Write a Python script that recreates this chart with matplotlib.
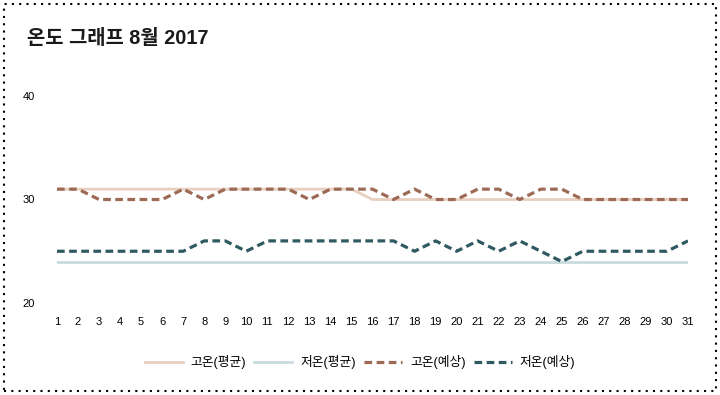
import matplotlib
matplotlib.use("Agg")
import matplotlib.pyplot as plt
from matplotlib.patches import Rectangle

plt.rcParams['font.family'] = ['Liberation Sans', 'Noto Sans CJK KR', 'DejaVu Sans']

# data
days = list(range(1, 32))
high_avg = [31] * 15 + [30] * 16
low_avg = [24] * 31
high_fcst = [31, 31, 30, 30, 30, 30, 31, 30, 31, 31, 31, 31, 30, 31, 31, 31,
             30, 31, 30, 30, 31, 31, 30, 31, 31, 30, 30, 30, 30, 30, 30]
low_fcst = [25, 25, 25, 25, 25, 25, 25, 26, 26, 25, 26, 26, 26, 26, 26, 26,
            26, 25, 26, 25, 26, 25, 26, 25, 24, 25, 25, 25, 25, 25, 26]
labels = ['고온(평균)', '저온(평균)', '고온(예상)', '저온(예상)']
y_ticks = [20, 30, 40]

fig = plt.figure(figsize=(7.2, 3.95), dpi=100)
ax = fig.add_axes([57 / 720, 1 - 303 / 395, (688 - 57) / 720, (303 - 96) / 395])

ax.plot(days, high_avg, color='#e8cfbf', lw=2, label=labels[0])
ax.plot(days, low_avg, color='#c8dcdf', lw=2, label=labels[1])
ax.plot(days, high_fcst, color='#9c6a55', lw=2.3, dashes=(2.4, 1.4), label=labels[2])
ax.plot(days, low_fcst, color='#2f5a62', lw=2.3, dashes=(2.4, 1.4), label=labels[3])

ax.set_xlim(1, 31)
ax.set_ylim(20, 40)
ax.set_xticks(days)
ax.set_yticks(y_ticks)
ax.tick_params(axis='both', length=0, labelsize=8, colors='#000000')
ax.tick_params(axis='y', pad=16)
ax.tick_params(axis='x', pad=10)
for s in ax.spines.values():
    s.set_visible(False)

fig.text(27 / 720, 1 - 38 / 395, '온도 그래프 8월 2017', fontsize=14.3,
         fontweight='bold', va='center', ha='left', color='#1a1a1a')

fig.legend(loc='center', bbox_to_anchor=(360 / 720, 1 - 362 / 395), ncol=4,
           frameon=False, fontsize=9.2, handlelength=2.97, columnspacing=0.63,
           handletextpad=0.63)

fig.patches.append(Rectangle((4 / 720, 4 / 395), 712 / 720, 387 / 395,
                             transform=fig.transFigure, fill=False,
                             edgecolor='black', lw=1.5, linestyle=(0, (1, 2.5))))

fig.savefig('out.png', dpi=100)
